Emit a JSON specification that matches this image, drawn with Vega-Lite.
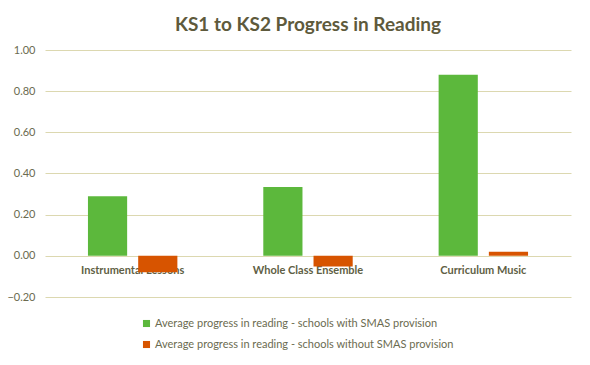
{
  "$schema": "https://vega.github.io/schema/vega-lite/v6.json",
  "width": 526,
  "height": 247,
  "autosize": "none",
  "padding": {"left": 45, "top": 50, "right": 19, "bottom": 68},
  "background": "white",
  "title": {
    "text": "KS1 to KS2 Progress in Reading",
    "font": "Lato",
    "fontSize": 19,
    "fontWeight": "bold",
    "color": "#5e5a3c",
    "anchor": "middle",
    "offset": 9
  },
  "data": {
    "values": [
      {"category": "Instrumental Lessons", "series": "Average progress in reading - schools with SMAS provision", "value": 0.29},
      {"category": "Instrumental Lessons", "series": "Average progress in reading - schools without SMAS provision", "value": -0.08},
      {"category": "Whole Class Ensemble", "series": "Average progress in reading - schools with SMAS provision", "value": 0.335},
      {"category": "Whole Class Ensemble", "series": "Average progress in reading - schools without SMAS provision", "value": -0.052},
      {"category": "Curriculum Music", "series": "Average progress in reading - schools with SMAS provision", "value": 0.88},
      {"category": "Curriculum Music", "series": "Average progress in reading - schools without SMAS provision", "value": 0.02}
    ]
  },
  "mark": {"type": "bar"},
  "encoding": {
    "x": {
      "field": "category",
      "type": "nominal",
      "sort": null,
      "title": null,
      "scale": {"paddingInner": 0.49, "paddingOuter": 0.245},
      "axis": {
        "offset": -41,
        "domain": false,
        "ticks": false,
        "labelAngle": 0,
        "labelFont": "Lato",
        "labelFontSize": 11,
        "labelFontWeight": "bold",
        "labelColor": "#5f5f45",
        "labelPadding": 8
      }
    },
    "xOffset": {
      "field": "series",
      "type": "nominal",
      "scale": {"paddingInner": 0.22, "paddingOuter": 0}
    },
    "y": {
      "field": "value",
      "type": "quantitative",
      "title": null,
      "scale": {"domain": [-0.2, 1.0], "nice": false, "zero": false},
      "axis": {
        "values": [-0.2, 0, 0.2, 0.4, 0.6, 0.8, 1.0],
        "format": ".2f",
        "domain": false,
        "ticks": false,
        "labelFont": "Lato",
        "labelFontSize": 11,
        "labelColor": "#6b6b50",
        "labelPadding": 10,
        "grid": true,
        "gridColor": "#dcd8b0",
        "gridWidth": 1
      }
    },
    "color": {
      "field": "series",
      "type": "nominal",
      "title": null,
      "scale": {
        "domain": ["Average progress in reading - schools with SMAS provision", "Average progress in reading - schools without SMAS provision"],
        "range": ["#5cb83c", "#d75400"]
      },
      "legend": {
        "orient": "none",
        "legendX": 96,
        "legendY": 268,
        "direction": "vertical",
        "symbolType": "square",
        "symbolSize": 50,
        "symbolStrokeWidth": 0,
        "rowPadding": 9,
        "labelFont": "Lato",
        "labelFontSize": 11,
        "labelColor": "#6b6b50",
        "labelLimit": 400,
        "labelOffset": 3
      }
    }
  },
  "config": {
    "view": {"stroke": null}
  }
}
